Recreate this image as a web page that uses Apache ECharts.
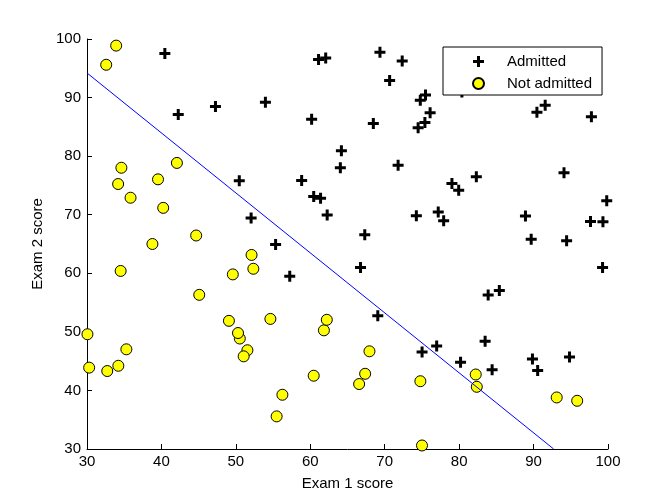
<!DOCTYPE html>
<html>
<head>
<meta charset="utf-8">
<script src="https://cdn.jsdelivr.net/npm/echarts@6/dist/echarts.min.js"></script>
<style>html,body{margin:0;padding:0;background:#fff;}#c{width:672px;height:504px;}</style>
</head>
<body>
<div id="c"></div>
<script>
const admittedX = [60.18,79.03,61.11,75.02,76.10,84.43,82.31,69.36,53.97,69.07,70.66,76.98,89.68,77.92,62.27,80.19,61.38,85.40,52.05,64.18,83.90,94.44,77.19,97.77,62.07,91.56,79.94,99.27,90.55,97.65,74.25,71.80,75.40,40.46,80.28,66.75,64.04,72.35,60.46,58.84,99.83,47.26,50.46,88.91,94.83,67.32,57.24,80.37,68.47,75.48,78.64,94.09,90.45,74.49,89.85,83.49,42.26,99.32,55.34,74.78];
const admittedY = [86.31,75.34,96.51,46.55,87.42,43.53,76.48,97.72,89.21,52.74,92.93,47.58,65.80,68.97,69.95,44.82,72.81,57.05,69.43,80.91,56.31,65.57,70.46,86.73,96.77,88.70,74.16,61.00,43.39,68.86,69.82,78.45,85.76,97.54,92.12,60.99,78.03,96.23,73.09,75.86,72.37,88.48,75.81,69.80,45.69,66.59,59.51,90.96,85.59,90.42,96.65,77.16,87.51,84.85,45.36,48.38,87.10,68.78,64.93,89.53];
const rejectedX = [34.62,30.29,35.85,45.08,95.86,75.01,39.54,67.95,67.37,50.53,34.21,93.11,61.83,38.79,52.11,40.24,54.64,33.92,74.79,34.18,51.55,82.37,51.05,62.22,34.52,50.29,49.59,32.58,35.29,56.25,30.06,44.67,66.56,49.07,32.72,60.46,82.23,42.08,52.35,55.48];
const rejectedY = [78.02,43.89,72.90,56.32,38.23,30.60,76.04,46.68,42.84,48.86,44.21,38.80,50.26,65.00,63.13,71.17,52.21,98.87,41.57,75.24,46.86,40.62,45.82,52.06,60.40,49.80,59.81,95.60,47.02,39.26,49.59,66.45,41.09,51.88,43.31,42.51,42.72,78.84,60.77,35.57];
const boundaryX = [30, 92.7];
const boundaryY = [94.2, 30];
const xTicks = [30,40,50,60,70,80,90,100];
const yTicks = [30,40,50,60,70,80,90,100];
const seriesNames = ['Admitted', 'Not admitted'];
const xName = 'Exam 1 score';
const yName = 'Exam 2 score';

const zip = (a, b) => a.map((v, i) => [v, b[i]]);
const plusPath = 'path://M4,0H7V4H11V7H7V11H4V7H0V4H4Z';
const font = 'Liberation Sans, Arial, Helvetica, sans-serif';

const chart = echarts.init(document.getElementById('c'), null, {renderer: 'canvas'});
const axisCommon = {
  type: 'value', min: xTicks[0], max: xTicks[xTicks.length - 1], interval: xTicks[1] - xTicks[0],
  splitLine: {show: false},
  axisLine: {show: true, lineStyle: {color: '#000', width: 1}},
  axisTick: {show: true, inside: true, length: 5, lineStyle: {color: '#000'}},
  axisLabel: {color: '#000', fontFamily: font, fontSize: 15},
  nameLocation: 'middle',
  nameTextStyle: {color: '#000', fontFamily: font, fontSize: 15}
};
chart.setOption({
  animation: false,
  backgroundColor: '#fff',
  grid: {left: 87, right: 64, top: 39, bottom: 55, containLabel: false},
  xAxis: Object.assign({}, axisCommon, {
    name: xName, nameGap: 27,
    axisLabel: Object.assign({}, axisCommon.axisLabel, {margin: 5})
  }),
  yAxis: Object.assign({}, axisCommon, {
    min: yTicks[0], max: yTicks[yTicks.length - 1], interval: yTicks[1] - yTicks[0],
    name: yName, nameGap: 40,
    axisLabel: Object.assign({}, axisCommon.axisLabel, {margin: 6})
  }),
  legend: {
    orient: 'vertical', left: 443, top: 47,
    backgroundColor: '#fff', borderColor: '#000', borderWidth: 1, borderRadius: 0,
    padding: [7, 10, 4, 29],
    itemWidth: 11, itemHeight: 11, itemGap: 7,
    textStyle: {color: '#000', fontFamily: font, fontSize: 15, lineHeight: 14, padding: [0, 0, 0, 18]},
    data: [{name: seriesNames[0], icon: plusPath}, {name: seriesNames[1], icon: 'circle'}]
  },
  series: [
    {
      name: seriesNames[0], type: 'scatter', symbol: plusPath, symbolSize: 11,
      itemStyle: {color: '#000', opacity: 1},
      data: zip(admittedX, admittedY), z: 2
    },
    {
      name: seriesNames[1], type: 'scatter', symbol: 'circle', symbolSize: 11,
      itemStyle: {color: '#ffff00', borderColor: '#000', borderWidth: 1, opacity: 1},
      data: zip(rejectedX, rejectedY), z: 3
    },
    {
      name: 'Decision boundary', type: 'line', showSymbol: false, symbol: 'none',
      lineStyle: {color: '#0000ff', width: 1}, silent: true,
      data: zip(boundaryX, boundaryY), z: 4
    }
  ]
});
</script>
</body>
</html>
